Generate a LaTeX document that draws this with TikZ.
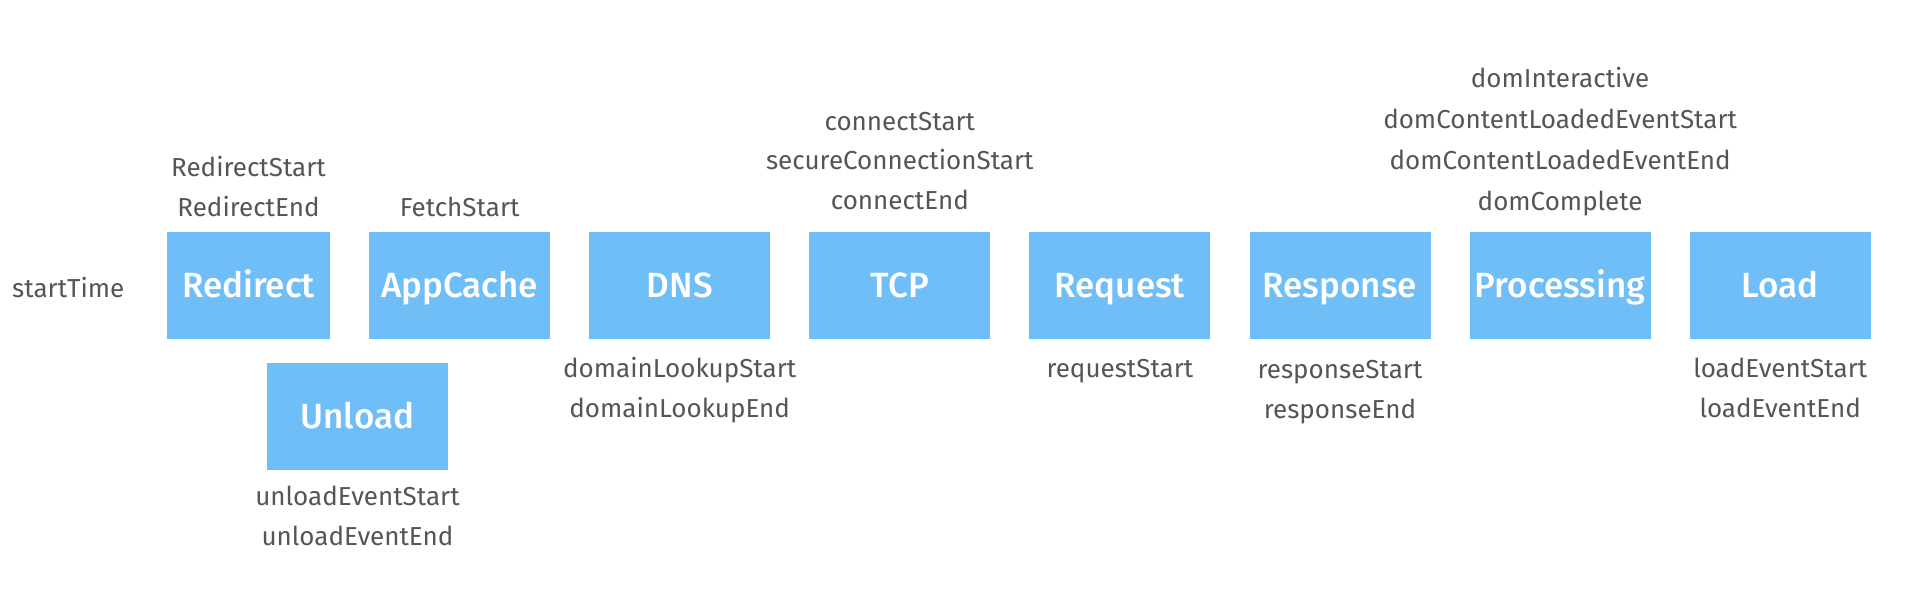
\documentclass[tikz,border=0pt]{standalone}
\usepackage{fontspec}
\setmainfont{Fira Sans}
\newfontfamily\stagefont{Fira Sans Medium}
\usetikzlibrary{positioning}
\definecolor{stageblue}{HTML}{70BEF8}
\definecolor{labelgray}{HTML}{555555}

\begin{document}
\begin{tikzpicture}[x=1pt, y=-1pt, node distance=38.7pt,
		stage/.style = {fill=stageblue, text=white, minimum width=181pt, minimum height=107pt, inner sep=0pt, font=\stagefont\fontsize{35}{40}\selectfont, text height=24pt, text depth=0pt},
		timing/.style = {anchor=base, text=labelgray, inner sep=0pt, font=\fontsize{26}{40}\selectfont}]
		\useasboundingbox (0,0) rectangle (1908,608);
		% the stages
		\node[stage, minimum width=163pt] (redirect) at (248.5,285.5) {Redirect};
		\node[stage] (appcache) [right=of redirect] {AppCache};
		\node[stage] (dns) [right=of appcache] {DNS};
		\node[stage] (tcp) [right=of dns] {TCP};
		\node[stage] (request) [right=of tcp] {Request};
		\node[stage] (response) [right=of request] {Response};
		\node[stage] (processing) [right=of response] {Processing};
		\node[stage] (load) [right=of processing] {Load};
		\node[stage] (unload) at (357.5,416.5) {Unload};
		
		% the timing marks
		\node[timing, anchor=base west] (starttime) at (12,297) {startTime};
		
		\node[timing] (redirectend) at ([yshift=15pt]redirect.north) {RedirectEnd};
		\node[timing] (redirectstart) at ([yshift=40pt]redirectend.base) {RedirectStart};
		
		\node[timing] (fetchstart) at ([yshift=15pt]appcache.north) {FetchStart};
		
		\node[timing] (unloadstart) at ([yshift=-35pt]unload.south) {unloadEventStart};
		\node[timing] (unloadend) at ([yshift=-40pt]unloadstart.base) {unloadEventEnd};
		
		\node[timing] (lookupstart) at ([yshift=-38pt]dns.south) {domainLookupStart};
		\node[timing] (lookupend) at ([yshift=-40pt]lookupstart.base) {domainLookupEnd};
		
		\node[timing] (connectend) at ([yshift=22pt]tcp.north) {connectEnd};
		\node[timing] (secureconnect) at ([yshift=40pt]connectend.base) {secureConnectionStart};
		\node[timing] (connectstart) at ([yshift=39pt]secureconnect.base) {connectStart};
		
		\node[timing] (requeststart) at ([yshift=-38pt]request.south) {requestStart};
		
		\node[timing] (responsestart) at ([yshift=-39pt]response.south) {responseStart};
		\node[timing] (responseend) at ([yshift=-40pt]responsestart.base) {responseEnd};
		
		\node[timing] (domcomplete) at ([yshift=21pt]processing.north) {domComplete};
		\node[timing] (contentend) at ([yshift=41pt]domcomplete.base) {domContentLoadedEventEnd};
		\node[timing] (contentstart) at ([yshift=41pt]contentend.base) {domContentLoadedEventStart};
		\node[timing] (interactive) at ([yshift=41pt]contentstart.base) {domInteractive};
		
		\node[timing] (loadstart) at ([yshift=-38pt]load.south) {loadEventStart};
		\node[timing] (loadend) at ([yshift=-40pt]loadstart.base) {loadEventEnd};
	\end{tikzpicture}
\end{document}
